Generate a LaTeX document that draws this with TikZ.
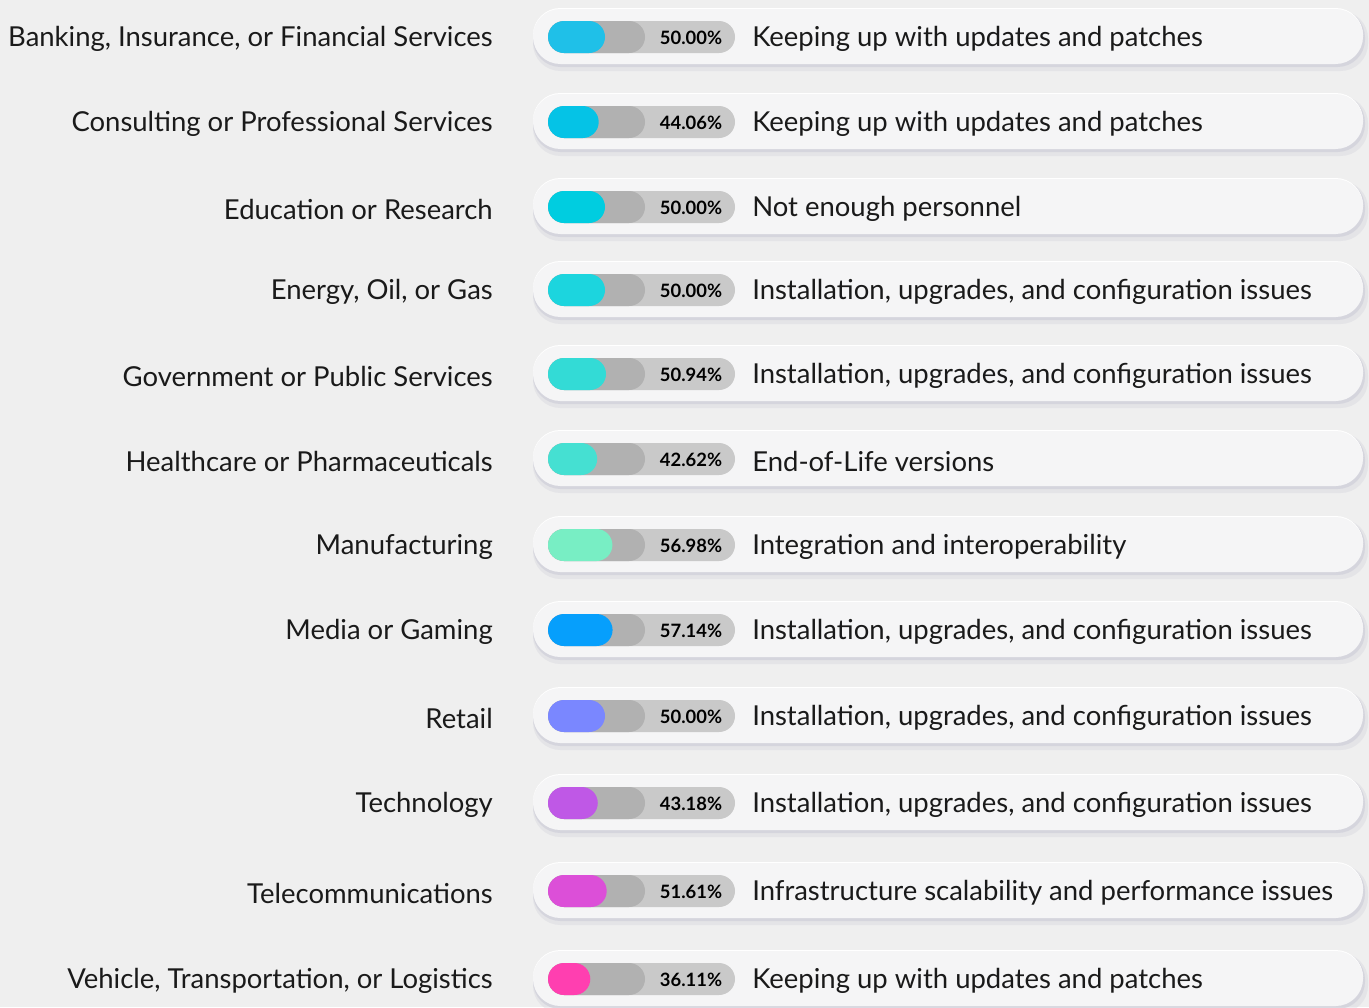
\documentclass[tikz,border=0pt]{standalone}
\usepackage{fontspec}
\setmainfont{Lato}
\usetikzlibrary{positioning}

\definecolor{pagebg}{HTML}{EFEFEF}
\definecolor{cardbg}{HTML}{F5F5F6}
\definecolor{shadowc}{HTML}{D0D0DA}
\definecolor{trackdark}{HTML}{B1B1B1}
\definecolor{tracklight}{HTML}{C9C9C9}
\definecolor{inkc}{HTML}{1A1A1A}
\definecolor{bankc}{HTML}{1FC0E8}
\definecolor{consc}{HTML}{05C3E6}
\definecolor{educc}{HTML}{00CDE0}
\definecolor{enerc}{HTML}{1CD5DE}
\definecolor{govc}{HTML}{33DBD6}
\definecolor{healc}{HTML}{45E0D2}
\definecolor{manuc}{HTML}{78EEC4}
\definecolor{mediac}{HTML}{069FFC}
\definecolor{retc}{HTML}{7A87FF}
\definecolor{techc}{HTML}{BF58E6}
\definecolor{telc}{HTML}{DC4FD8}
\definecolor{vehc}{HTML}{FF3FB0}

\begin{document}
\begin{tikzpicture}[x=0.75pt, y=-0.75pt,
  card/.style={fill=cardbg, rounded corners=20.5pt},
  cardshadow/.style={fill=shadowc, rounded corners=20.5pt},
  track/.style={rounded corners=12pt},
  sector/.style={anchor=east, inner sep=0pt, text=inkc, font=\fontsize{20.6}{23}\selectfont},
  issue/.style={anchor=west, inner sep=0pt, text=inkc, font=\fontsize{20.6}{23}\selectfont},
  pctlabel/.style={inner sep=0pt, text=black, font=\fontsize{13.8}{15}\selectfont\bfseries}]

  % background and page size
  \fill[pagebg] (0,0) rectangle (1369,1007);
  \useasboundingbox (0,0) rectangle (1369,1007);

  % one row per sector: card, track, coloured share, texts
  \foreach \y/\name/\col/\pct/\txt [count=\i] in {
      37/{Banking, Insurance, or Financial Services}/bankc/50.00/{Keeping up with updates and patches},
      122/{Consulting or Professional Services}/consc/44.06/{Keeping up with updates and patches},
      207/{Education or Research}/educc/50.00/{Not enough personnel},
      290/{Energy, Oil, or Gas}/enerc/50.00/{Installation, upgrades, and configuration issues},
      374/{Government or Public Services}/govc/50.94/{Installation, upgrades, and configuration issues},
      459/{Healthcare or Pharmaceuticals}/healc/42.62/{End-of-Life versions},
      545/{Manufacturing}/manuc/56.98/{Integration and interoperability},
      630/{Media or Gaming}/mediac/57.14/{Installation, upgrades, and configuration issues},
      716/{Retail}/retc/50.00/{Installation, upgrades, and configuration issues},
      803/{Technology}/techc/43.18/{Installation, upgrades, and configuration issues},
      891/{Telecommunications}/telc/51.61/{Infrastructure scalability and performance issues},
      979/{Vehicle, Transportation, or Logistics}/vehc/36.11/{Keeping up with updates and patches}} {
    % card with soft shadow
    \fill[cardshadow, opacity=.35] (533,\y-26) rectangle (1368,\y+34);
    \fill[cardshadow, opacity=.7] (533,\y-27) rectangle (1365,\y+30);
    \fill[white, rounded corners=20.5pt] (533,\y-29) rectangle (1363,\y+24);
    \fill[card] (533,\y-28) rectangle (1363,\y+27);
    % track
    \fill[track, tracklight] (548,\y-16) rectangle (735,\y+16);
    \fill[track, trackdark] (548,\y-16) rectangle (645,\y+16);
    \fill[track, \col] (548,\y-16) rectangle ({552+1.06*\pct},\y+16);
    % texts
    \node[sector] (sec\i) at (493,\y+2) {\name};
    \node[pctlabel] (pct\i) at (691,\y+1) {\pct\%};
    \node[issue] (iss\i) at (752,\y+2) {\txt};
  }

\end{tikzpicture}
\end{document}
